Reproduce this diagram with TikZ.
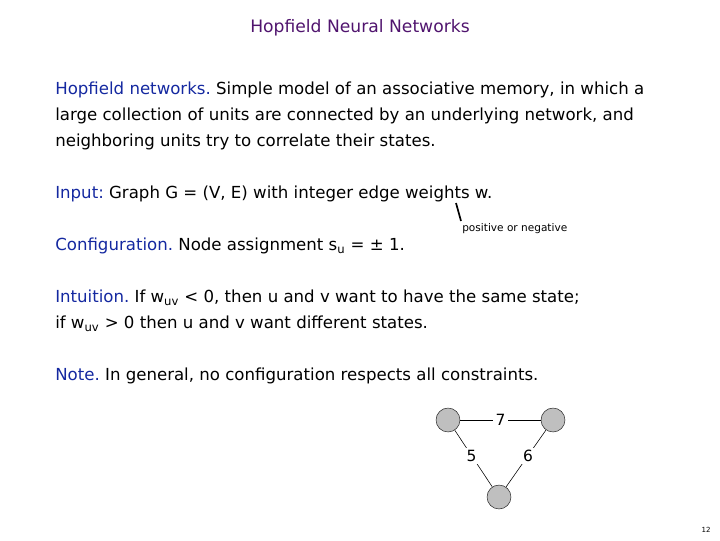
\documentclass[tikz,border=0pt]{standalone}
\usepackage{fontspec}
\setmainfont{DejaVu Sans}
\definecolor{ttl}{RGB}{80,20,110}
\definecolor{lbl}{RGB}{20,40,160}
\begin{document}
\begin{tikzpicture}[x=0.025cm,y=-0.025cm,
  txt/.style={anchor=west,inner sep=0,font=\fontsize{11.8}{14}\selectfont},
  vtx/.style={circle,draw=black!80,fill=black!25,minimum size=17,inner sep=0},
  wl/.style={fill=white,inner sep=1.5,font=\fontsize{11}{13}\selectfont}]
\useasboundingbox (0,0) rectangle (720,540);
\node[inner sep=0,text=ttl,font=\fontsize{12.2}{14}\selectfont] (title) at (360,28) {Hopfield Neural Networks};
\node[txt] (l1) at (55,90) {\textcolor{lbl}{Hopfield networks.}\ Simple model of an associative memory, in which a};
\node[txt] (l2) at (55,116) {large collection of units are connected by an underlying network, and};
\node[txt] (l3) at (55,142) {neighboring units try to correlate their states.};
\node[txt] (l4) at (55,194) {\textcolor{lbl}{Input:}\ Graph G = (V, E) with integer edge weights w.};
\node[txt] (l5) at (55,246) {\textcolor{lbl}{Configuration.}\ Node assignment s\textsubscript{u} = ± 1.};
\node[txt] (l6) at (55,298) {\textcolor{lbl}{Intuition.}\ If w\textsubscript{uv} < 0, then u and v want to have the same state;};
\node[txt] (l7) at (55,324) {if w\textsubscript{uv} > 0 then u and v want different states.};
\node[txt] (l8) at (55,376) {\textcolor{lbl}{Note.}\ In general, no configuration respects all constraints.};
\node[anchor=west,inner sep=0,font=\fontsize{7.5}{9}\selectfont] (pn) at (462,229) {positive or negative};
\coordinate (pa) at (461,221);
\coordinate (pb) at (456,203);
\draw[line width=1.2pt] (pa) -- (pb);
\node[vtx] (a) at (448,420) {};
\node[vtx] (b) at (553,420) {};
\node[vtx] (c) at (499,497) {};
\draw (a) -- node[wl] {7} (b);
\draw (a) -- node[wl,pos=0.45] {5} (c);
\draw (b) -- node[wl,pos=0.45] {6} (c);
\node[inner sep=0,font=\fontsize{5}{6}\selectfont] (pg) at (706,530) {12};
\end{tikzpicture}
\end{document}
